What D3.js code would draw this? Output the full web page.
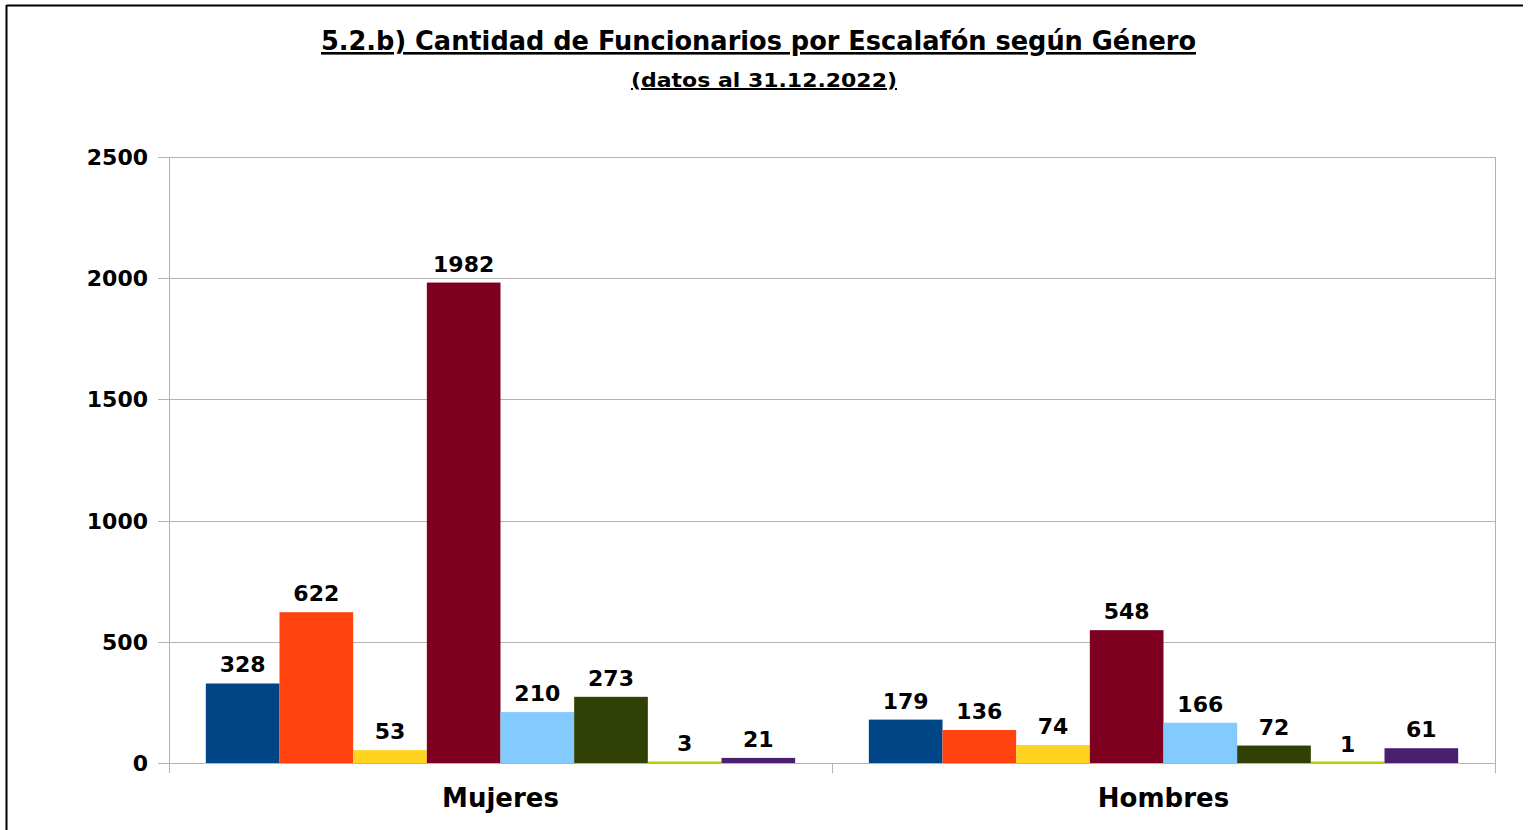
<!DOCTYPE html>
<html>
<head>
<meta charset="utf-8">
<script src="https://cdn.jsdelivr.net/npm/d3@7"></script>
<style>
  body { margin: 0; background: #fff; }
  svg { display: block; font-family: "DejaVu Sans", sans-serif; font-weight: bold; }
</style>
</head>
<body>
<div id="chart"></div>
<script>
// data
var generos = ["Mujeres", "Hombres"];
var escalafones = ["A", "B", "C", "D", "E", "F", "J", "R"];
var mujeres = [328, 622, 53, 1982, 210, 273, 3, 21];
var hombres = [179, 136, 74, 548, 166, 72, 1, 61];
var colores = ["#004586", "#ff420e", "#ffd320", "#7e0021", "#83caff", "#314004", "#aecf00", "#4b1f6f"];
var yTicks = [0, 500, 1000, 1500, 2000, 2500];

var width = 1532, height = 830;
var margin = {left: 169, right: 1495, top: 157, bottom: 763};

var svg = d3.select("#chart").append("svg").attr("width", width).attr("height", height);

// outer border (only top & left visible)
svg.append("line").attr("x1", 6.5).attr("x2", 1523).attr("y1", 5.5).attr("y2", 5.5).attr("stroke", "#000").attr("stroke-width", 2);
svg.append("line").attr("x1", 6.5).attr("x2", 6.5).attr("y1", 5).attr("y2", height).attr("stroke", "#000").attr("stroke-width", 2);

var rows = generos.map(function(g, i) {
  return {genero: g, values: i == 0 ? mujeres : hombres};
});

var x0 = d3.scaleBand().domain(generos).range([margin.left, margin.right]);
// half a bar of empty space at each side of a group
var x1 = d3.scaleBand().domain(escalafones).range([0, x0.bandwidth()]).paddingInner(0).paddingOuter(0.5);

var y = d3.scaleLinear().domain([0, 2500]).range([margin.bottom, margin.top]);

// grid
svg.append("g").selectAll("line").data(yTicks).enter().append("line")
  .attr("x1", margin.left - 11).attr("x2", margin.right)
  .attr("y1", function(d) { return Math.round(y(d)) + 0.5; })
  .attr("y2", function(d) { return Math.round(y(d)) + 0.5; })
  .attr("stroke", "#b3b3b3").attr("stroke-width", 1);

// y axis line + right edge
svg.append("line").attr("x1", margin.left + 0.5).attr("x2", margin.left + 0.5)
  .attr("y1", margin.top).attr("y2", margin.bottom + 10).attr("stroke", "#b3b3b3");
svg.append("line").attr("x1", margin.right + 0.5).attr("x2", margin.right + 0.5)
  .attr("y1", margin.top).attr("y2", margin.bottom + 10).attr("stroke", "#b3b3b3");
// category separator
svg.append("line").attr("x1", Math.round(x0("Hombres")) + 0.5).attr("x2", Math.round(x0("Hombres")) + 0.5)
  .attr("y1", margin.bottom).attr("y2", margin.bottom + 10).attr("stroke", "#b3b3b3");

// y tick labels
svg.append("g").selectAll("text").data(yTicks).enter().append("text")
  .attr("x", 148).attr("y", function(d) { return y(d) + 8; })
  .attr("text-anchor", "end").attr("font-size", 22)
  .text(function(d) { return d; });

// bars
var groups = svg.append("g").selectAll("g").data(rows).enter().append("g")
  .attr("transform", function(d) { return "translate(" + x0(d.genero) + ",0)"; });

groups.selectAll("rect").data(function(d) { return d.values; }).enter().append("rect")
  .attr("x", function(d, i) { return x1(escalafones[i]); })
  .attr("width", x1.bandwidth())
  .attr("y", function(d) { return Math.min(y(d), margin.bottom - 1.5); })
  .attr("height", function(d) { return Math.max(margin.bottom - y(d), 1.5); })
  .attr("fill", function(d, i) { return colores[i]; });

groups.selectAll("text").data(function(d) { return d.values; }).enter().append("text")
  .attr("x", function(d, i) { return x1(escalafones[i]) + x1.bandwidth() / 2; })
  .attr("y", function(d) { return y(d) - 11; })
  .attr("text-anchor", "middle").attr("font-size", 22)
  .text(function(d) { return d; });

// category labels
svg.append("g").selectAll("text").data(generos).enter().append("text")
  .attr("x", function(d) { return x0(d) + x0.bandwidth() / 2; })
  .attr("y", 807).attr("text-anchor", "middle").attr("font-size", 26)
  .text(function(d) { return d; });

// titles
svg.append("text").attr("x", 758.5).attr("y", 50).attr("text-anchor", "middle")
  .attr("font-size", 26).attr("textLength", 875).attr("lengthAdjust", "spacingAndGlyphs")
  .attr("text-decoration", "underline")
  .text("5.2.b) Cantidad de Funcionarios por Escalafón según Género");
svg.append("text").attr("x", 764).attr("y", 87).attr("text-anchor", "middle")
  .attr("font-size", 20).attr("textLength", 266).attr("lengthAdjust", "spacingAndGlyphs")
  .attr("text-decoration", "underline")
  .text("(datos al 31.12.2022)");
</script>
</body>
</html>
